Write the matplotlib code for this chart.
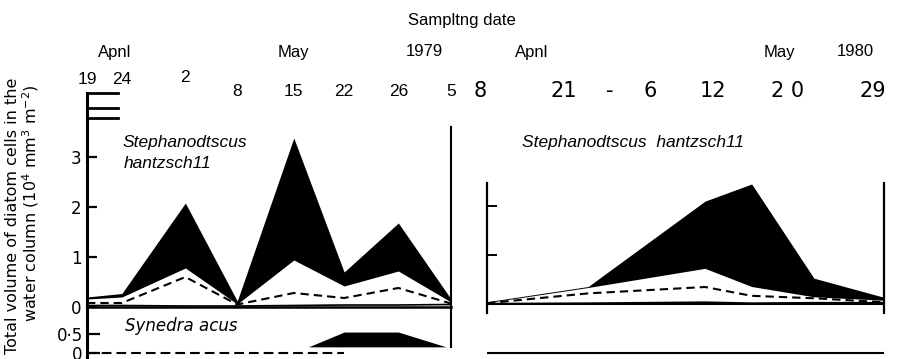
import matplotlib
matplotlib.use('Agg')
import matplotlib.pyplot as plt
from matplotlib.transforms import blended_transform_factory

plt.rcParams['lines.scale_dashes'] = False

# 1979 sampling (x = position along the date axis, days from 19 April)
dates79 = ['19', '24', '2', '8', '15', '22', '26', '5']
x79 = [0, 4.5, 12.7, 19.4, 26.7, 33.2, 40.2, 47]
total79 = [0.20, 0.27, 2.08, 0.12, 3.38, 0.70, 1.68, 0.16]
lower79 = [0.16, 0.20, 0.78, 0.06, 0.94, 0.42, 0.72, 0.10]
dashed79 = [0.08, 0.08, 0.60, 0.05, 0.28, 0.18, 0.38, 0.07]
solid79 = [0.03, 0.03, 0.02, 0.02, 0.03, 0.04, 0.04, 0.05]
# Synedra acus 1979
syn_top79 = [0.05, 0.05, 0.05, 0.05, 0.0, 0.55, 0.55, 0.12]
syn_low79 = [0.16, 0.16, 0.16, 0.16, 0.16, 0.16, 0.16, 0.16]
syn_dash79 = [0, 0, 0, 0, 0, 0]

# 1980 sampling (days from 8 April)
dates80 = ['8', '21', '-', '6', '12', '2 0', '29']
x80 = [0, 13, 28, 34, 42, 51]
total80 = [0.05, 0.36, 2.10, 2.45, 0.53, 0.14]
lower80 = [0.03, 0.34, 0.73, 0.36, 0.15, 0.08]
dashed80 = [0.02, 0.22, 0.35, 0.17, 0.12, 0.04]
solid80 = [0.01, 0.02, 0.04, 0.02, 0.03, 0.03]
syn80 = [0, 0]

W, H = 899, 359
fig = plt.figure(figsize=(W / 100, H / 100), dpi=100)


def box(x0, y0, x1, y1):
    return [x0 / W, 1 - y1 / H, (x1 - x0) / W, (y1 - y0) / H]


def ftext(px, py, s, **kw):
    fig.text(px / W, 1 - py / H, s, **kw)


sans = 'Liberation Sans'
geo = 'DejaVu Sans'

# ---- 1979 main panel
ax1 = fig.add_axes(box(87, 93, 451, 307))
ax1.set_xlim(0, 47)
ax1.set_ylim(0, 4.28)
ax1.fill_between(x79, lower79, total79, color='black', lw=0)
ax1.plot(x79, dashed79, color='black', lw=1.5, dashes=(6, 3.6))
ax1.plot(x79, solid79, color='black', lw=1.2)
ax1.axhline(0, color='black', lw=1.8, clip_on=False)
ax1.axvline(47, ymin=0, ymax=0.841, color='black', lw=1.5, clip_on=False)
for yv in [4.28, 3.98, 3.78]:
    ax1.axhline(yv, xmin=0, xmax=0.085, color='black', lw=2, clip_on=False)
for s in ['top', 'right', 'bottom']:
    ax1.spines[s].set_visible(False)
ax1.spines['left'].set_linewidth(2.2)
ax1.set_xticks([])
ax1.set_yticks([0, 1, 2, 3])
ax1.set_yticklabels(['0', '1', '2', '3'], fontfamily=geo, fontsize=12)
ax1.tick_params(axis='y', direction='in', length=7, width=1.6, pad=4)

trans = blended_transform_factory(ax1.transData, fig.transFigure)
row_y = [80, 80, 78, 92, 92, 92, 92, 92]
for xv, lab, py in zip(x79, dates79, row_y):
    ax1.text(xv, 1 - py / H, lab, transform=trans, ha='center', va='center',
             fontfamily=sans, fontsize=12.5)

# ---- 1979 Synedra panel
ax2 = fig.add_axes(box(87, 307, 451, 359))
ax2.set_xlim(0, 47)
ax2.set_ylim(-0.16, 1.21)
ax2.fill_between(x79, syn_low79, syn_top79, where=[t > l for t, l in zip(syn_top79, syn_low79)],
                 interpolate=True, color='black', lw=0)
ax2.plot(x79[:len(syn_dash79)], syn_dash79, color='black', lw=1.5, dashes=(7, 3.6))
ax2.axvline(47, ymin=0.23, ymax=1, color='black', lw=1.5, clip_on=False)
for s in ['top', 'right', 'bottom']:
    ax2.spines[s].set_visible(False)
ax2.spines['left'].set_linewidth(2.2)
ax2.set_xticks([])
ax2.set_yticks([0, 0.5])
ax2.set_yticklabels(['0', '0·5'], fontfamily=geo, fontsize=12)
ax2.tick_params(axis='y', direction='in', length=9, width=1.6, pad=3)
ax2.patch.set_alpha(0)

# ---- 1980 main panel
ax3 = fig.add_axes(box(487, 183, 884, 313))
ax3.set_xlim(0, 51)
ax3.set_ylim(-0.18, 2.47)
ax3.fill_between(x80, lower80, total80, color='black', lw=0)
ax3.plot(x80, dashed80, color='black', lw=1.5, dashes=(6, 3.6))
ax3.plot(x80, solid80, color='black', lw=1.2)
ax3.axhline(0, color='black', lw=1.5)
for s in ['top', 'bottom']:
    ax3.spines[s].set_visible(False)
ax3.spines['left'].set_linewidth(1.6)
ax3.spines['right'].set_linewidth(1.6)
ax3.set_xticks([])
ax3.set_yticks([1, 2])
ax3.set_yticklabels([])
ax3.tick_params(axis='y', direction='in', length=7, width=1.4)

lab80_x = [-0.9, 9.9, 15.8, 21.0, 29.0, 38.6, 49.5]
trans3 = blended_transform_factory(ax3.transData, fig.transFigure)
for xv, lab in zip(lab80_x, dates80):
    ax3.text(xv, 1 - 91 / H, lab, transform=trans3, ha='center', va='center',
             fontfamily=geo, fontsize=15, clip_on=False)

# ---- 1980 Synedra panel
ax4 = fig.add_axes(box(487, 313, 884, 359))
ax4.set_xlim(0, 51)
ax4.set_ylim(-0.16, 1.05)
ax4.plot([x80[0], x80[-1]], syn80, color='black', lw=1.5)
ax4.axis('off')

# ---- texts
ftext(462, 20, 'Sampltng date', ha='center', va='center', fontfamily=sans, fontsize=12)
ftext(115, 52, 'Apnl', ha='center', va='center', fontfamily=sans, fontsize=12)
ftext(293, 52, 'May', ha='center', va='center', fontfamily=sans, fontsize=12)
ftext(424, 52, '1979', ha='center', va='center', fontfamily=sans, fontsize=12)
ftext(532, 52, 'Apnl', ha='center', va='center', fontfamily=sans, fontsize=12)
ftext(779, 52, 'May', ha='center', va='center', fontfamily=sans, fontsize=12)
ftext(855, 52, '1980', ha='center', va='center', fontfamily=sans, fontsize=12)

ftext(122, 143, 'Stephanodtscus', ha='left', va='center', fontfamily=sans,
      style='italic', fontsize=12.5)
ftext(124, 163, 'hantzsch11', ha='left', va='center', fontfamily=sans,
      style='italic', fontsize=12.5)
ftext(522, 142, 'Stephanodtscus  hantzsch11', ha='left', va='center', fontfamily=sans,
      style='italic', fontsize=12.5)
ftext(125, 326, 'Synedra acus', ha='left', va='center', fontfamily=geo,
      style='italic', fontsize=12)

ftext(13, 216, 'Total volume of diatom cells in the', rotation=90, ha='center',
      va='center', fontfamily=geo, fontsize=11.5)
ftext(31, 203, 'water column (10$^4$ mm$^3$ m$^{-2}$)', rotation=90, ha='center',
      va='center', fontfamily=geo, fontsize=11.5)

fig.savefig('out.png', dpi=100)
